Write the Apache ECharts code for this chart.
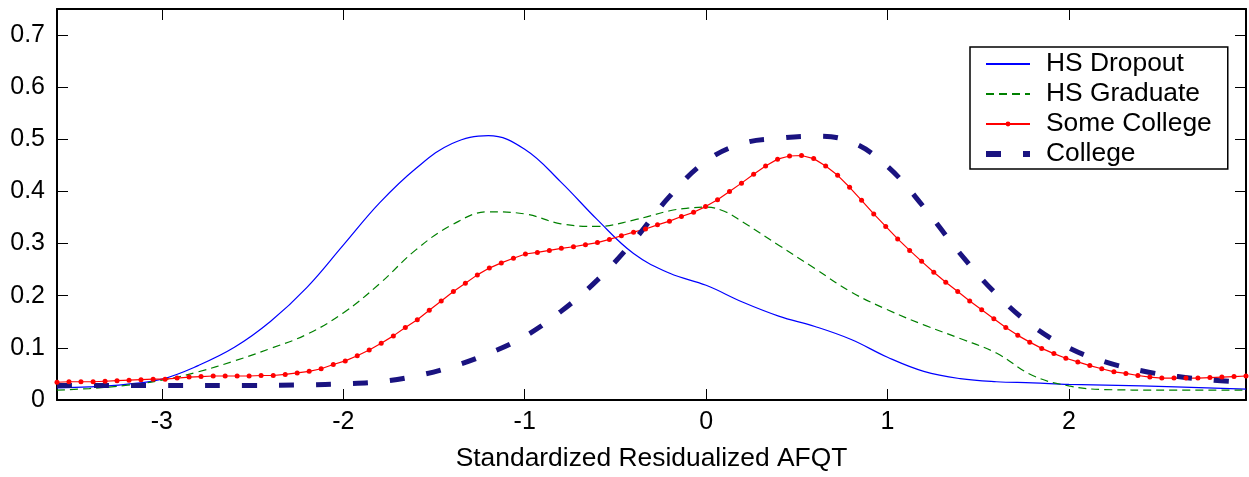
<!DOCTYPE html>
<html>
<head>
<meta charset="utf-8">
<script src="https://cdn.jsdelivr.net/npm/echarts@6/dist/echarts.min.js"></script>
<style>
html,body{margin:0;padding:0;background:#fff;}
#chart{width:1249px;height:477px;}
</style>
</head>
<body>
<div id="chart"></div>
<script>
// ---- data ----
const seriesNames = ['HS Dropout', 'HS Graduate', 'Some College', 'College'];
const xTitle = 'Standardized Residualized AFQT';

const dropoutX = [-3.578,-3.4,-3.2,-3.0,-2.8,-2.6,-2.4,-2.2,-2.0,-1.8,-1.6,-1.4,-1.2,-1.0,-0.8,-0.6,-0.4,-0.2,0.0,0.2,0.4,0.6,0.8,1.0,1.2,1.4,1.6,1.8,2.0,2.4,2.976];
const dropoutY = [0.023,0.025,0.030,0.040,0.066,0.101,0.151,0.216,0.297,0.378,0.444,0.492,0.507,0.481,0.418,0.346,0.281,0.243,0.220,0.188,0.161,0.141,0.116,0.082,0.055,0.041,0.035,0.033,0.030,0.027,0.021];

const gradX = [-3.578,-3.4,-3.2,-3.0,-2.8,-2.6,-2.4,-2.2,-2.0,-1.8,-1.6,-1.4,-1.2,-1.0,-0.8,-0.6,-0.4,-0.2,-0.1,0.0,0.1,0.2,0.4,0.6,0.8,1.0,1.2,1.4,1.6,1.8,2.0,2.2,2.5,2.976];
const gradY = [0.019,0.022,0.028,0.038,0.054,0.075,0.099,0.126,0.167,0.223,0.288,0.336,0.361,0.357,0.338,0.333,0.345,0.363,0.368,0.370,0.362,0.342,0.297,0.252,0.207,0.173,0.144,0.118,0.090,0.047,0.027,0.020,0.019,0.019];

const someX = [-3.578,-3.512,-3.446,-3.379,-3.313,-3.247,-3.181,-3.115,-3.048,-2.982,
-2.916,-2.850,-2.784,-2.717,-2.651,-2.585,-2.519,-2.453,-2.386,-2.320,
-2.254,-2.188,-2.122,-2.055,-1.989,-1.923,-1.857,-1.791,-1.724,-1.658,
-1.592,-1.526,-1.460,-1.393,-1.327,-1.261,-1.195,-1.129,-1.062,-0.996,
-0.930,-0.864,-0.798,-0.731,-0.665,-0.599,-0.533,-0.467,-0.400,-0.334,
-0.268,-0.202,-0.136,-0.069,-0.003,0.063,0.129,0.195,0.262,0.328,
0.394,0.460,0.526,0.593,0.659,0.725,0.791,0.857,0.924,0.990,
1.056,1.122,1.188,1.255,1.321,1.387,1.453,1.519,1.586,1.652,
1.718,1.784,1.850,1.917,1.983,2.049,2.115,2.181,2.248,2.314,
2.380,2.446,2.512,2.579,2.645,2.711,2.777,2.843,2.910,2.976];
const someY = [0.034,0.035,0.035,0.035,0.036,0.037,0.038,0.039,0.040,0.040,
0.042,0.044,0.045,0.046,0.046,0.046,0.046,0.047,0.047,0.049,
0.052,0.055,0.060,0.068,0.075,0.085,0.096,0.109,0.123,0.139,
0.154,0.172,0.190,0.208,0.224,0.240,0.253,0.263,0.272,0.280,
0.283,0.287,0.291,0.294,0.298,0.302,0.308,0.315,0.322,0.328,
0.336,0.343,0.352,0.360,0.371,0.384,0.400,0.416,0.433,0.449,
0.462,0.468,0.469,0.463,0.449,0.431,0.408,0.383,0.357,0.333,
0.309,0.287,0.266,0.245,0.226,0.208,0.190,0.173,0.156,0.139,
0.124,0.111,0.099,0.089,0.080,0.073,0.066,0.060,0.054,0.051,
0.047,0.044,0.042,0.042,0.042,0.042,0.043,0.044,0.045,0.046];

const collegeX = [-3.578,-3.0,-2.5,-2.2,-2.0,-1.8,-1.6,-1.4,-1.2,-1.0,-0.8,-0.6,-0.4,-0.2,0.0,0.2,0.4,0.6,0.8,1.0,1.2,1.4,1.6,1.8,2.0,2.2,2.4,2.6,2.8,2.976];
const collegeY = [0.028,0.028,0.028,0.029,0.031,0.035,0.046,0.064,0.089,0.122,0.170,0.230,0.305,0.391,0.458,0.492,0.502,0.506,0.495,0.448,0.370,0.281,0.203,0.142,0.100,0.073,0.056,0.045,0.038,0.034];

const xMin = -3.578, xMax = 2.976;
const yMin = 0, yMax = 0.75, yStep = 0.1;

// ---- chart ----
const pairs = (xs, ys) => xs.map((x, i) => [x, ys[i]]);
const FONT = '"Liberation Sans", Arial, Helvetica, sans-serif';
const chart = echarts.init(document.getElementById('chart'), null, {renderer: 'canvas'});

const tickStyle = {show: true, inside: true, length: 11, lineStyle: {color: '#000', width: 1}};
const lineStyleAxis = {show: true, onZero: false, lineStyle: {color: '#000', width: 2}};

chart.setOption({
  animation: false,
  backgroundColor: '#fff',
  grid: {left: 57, right: 3, top: 9, bottom: 73, containLabel: false},
  legend: {
    orient: 'vertical',
    left: 970, top: 47,
    data: [
      {name: seriesNames[0], itemStyle: {opacity: 0}},
      {name: seriesNames[1], itemStyle: {opacity: 0}},
      {name: seriesNames[2]},
      {name: seriesNames[3], icon: 'path://M0,0h15v6h-15z M37,0h7v6h-7z', itemStyle: {color: '#1a1380'}}
    ],
    itemWidth: 44, itemHeight: 6, itemGap: 0,
    padding: [2, 16, 0, 15],
    borderColor: '#000', borderWidth: 1.5,
    backgroundColor: '#fff',
    textStyle: {fontFamily: FONT, fontSize: 26.4, color: '#000', lineHeight: 30, padding: [0,0,0,11]}
  },
  xAxis: [{
    type: 'value', min: xMin, max: xMax, splitNumber: 6, position: 'bottom',
    axisLine: lineStyleAxis, axisTick: tickStyle, splitLine: {show: false},
    axisLabel: {
      fontFamily: FONT, fontSize: 25, color: '#000', margin: 10,
      formatter: v => Math.abs(v - Math.round(v)) < 1e-6 ? String(Math.round(v)) : ''
    },
    name: xTitle, nameLocation: 'middle', nameGap: 46,
    nameTextStyle: {fontFamily: FONT, fontSize: 26.4, color: '#000'}
  }, {
    type: 'value', min: xMin, max: xMax, splitNumber: 6, position: 'top',
    axisLine: lineStyleAxis, axisTick: tickStyle, splitLine: {show: false},
    axisLabel: {show: false}
  }],
  yAxis: [{
    type: 'value', min: yMin, max: yMax, interval: yStep, position: 'left',
    axisLine: lineStyleAxis, axisTick: tickStyle, splitLine: {show: false},
    axisLabel: {
      fontFamily: FONT, fontSize: 25, color: '#000', margin: 12,
      formatter: v => {
        const k = Math.round(v * 100);
        if (k % 10 !== 0) return '';
        return k === 0 ? '0' : String(k / 100);
      }
    }
  }, {
    type: 'value', min: yMin, max: yMax, interval: yStep, position: 'right',
    axisLine: lineStyleAxis, axisTick: tickStyle, splitLine: {show: false},
    axisLabel: {show: false}
  }],
  series: [
    {
      name: seriesNames[0], type: 'line', data: pairs(dropoutX, dropoutY),
      smooth: 0.4, symbol: 'none', color: '#0000ff',
      lineStyle: {color: '#0000ff', width: 1.2}
    },
    {
      name: seriesNames[1], type: 'line', data: pairs(gradX, gradY),
      smooth: 0.4, symbol: 'none', color: '#008000',
      lineStyle: {color: '#008000', width: 1.2, type: [8, 5]}
    },
    {
      name: seriesNames[2], type: 'line', data: pairs(someX, someY),
      smooth: false, symbol: 'circle', symbolSize: 5, showAllSymbol: true, color: '#ff0000',
      itemStyle: {color: '#ff0000'},
      lineStyle: {color: '#ff0000', width: 1.2}
    },
    {
      name: seriesNames[3], type: 'line', data: pairs(collegeX, collegeY),
      smooth: 0.4, symbol: 'none', color: '#1a1380',
      lineStyle: {color: '#1a1380', width: 5, type: [15, 22], cap: 'butt'}
    }
  ]
});
</script>
</body>
</html>
